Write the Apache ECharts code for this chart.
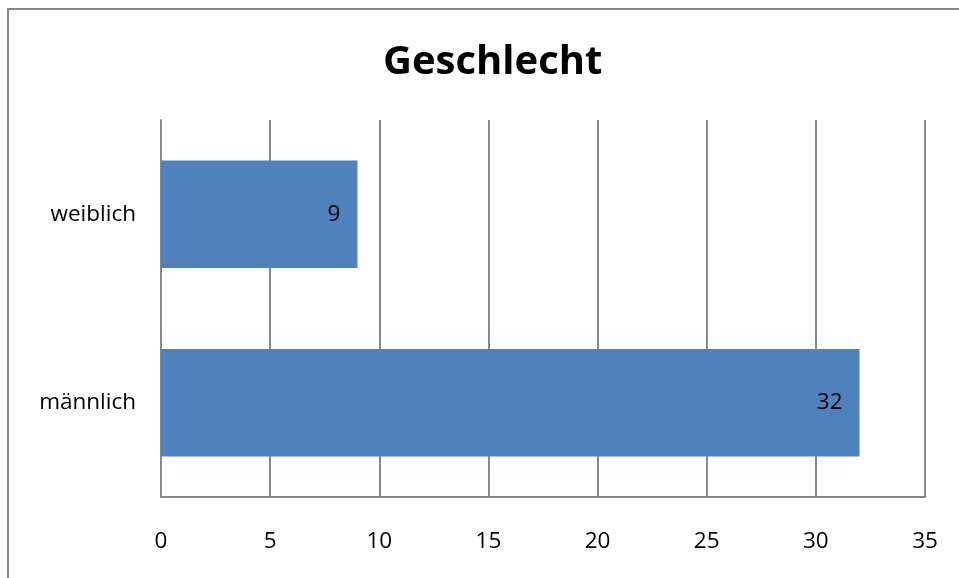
<!DOCTYPE html>
<html><head><meta charset="utf-8">
<script src="https://cdn.jsdelivr.net/npm/echarts@6/dist/echarts.min.js"></script>
<style>html,body{margin:0;padding:0;background:#fff}#c{width:959px;height:578px}</style>
</head><body><div id="c"></div>
<script>
var categories = ['männlich', 'weiblich'];
var values = [32, 9];
var titleText = 'Geschlecht';
var chart = echarts.init(document.getElementById('c'));
chart.setOption({
  animation: false,
  backgroundColor: '#fff',
  graphic: [{type: 'rect', shape: {x: 8, y: 9, width: 1000, height: 700}, style: {fill: 'none', stroke: '#888', lineWidth: 2}}],
  title: {text: titleText, left: 378, top: 38, textStyle: {fontFamily: 'Open Sans', fontWeight: 'bold', fontSize: 40, color: '#000'}},
  grid: {left: 161, right: 34, top: 120, bottom: 81},
  xAxis: {type: 'value', min: 0, max: 35, interval: 5,
    axisLine: {show: true, lineStyle: {color: '#888', width: 2}},
    axisTick: {show: false},
    splitLine: {show: true, lineStyle: {color: '#888', width: 2}},
    axisLabel: {margin: 33, fontFamily: 'Open Sans', fontSize: 22.5, color: '#000'}},
  yAxis: {type: 'category', data: categories,
    axisLine: {show: true, lineStyle: {color: '#888', width: 2}},
    axisTick: {show: false},
    axisLabel: {margin: 25, fontFamily: 'Open Sans', fontSize: 22.5, color: '#000'}},
  series: [{type: 'bar', data: values, barCategoryGap: '43%', itemStyle: {color: '#4F81BD'},
    label: {show: true, position: 'insideRight', distance: 17, fontFamily: 'Open Sans', fontSize: 22.5, color: '#000'}}]
});
</script></body></html>
